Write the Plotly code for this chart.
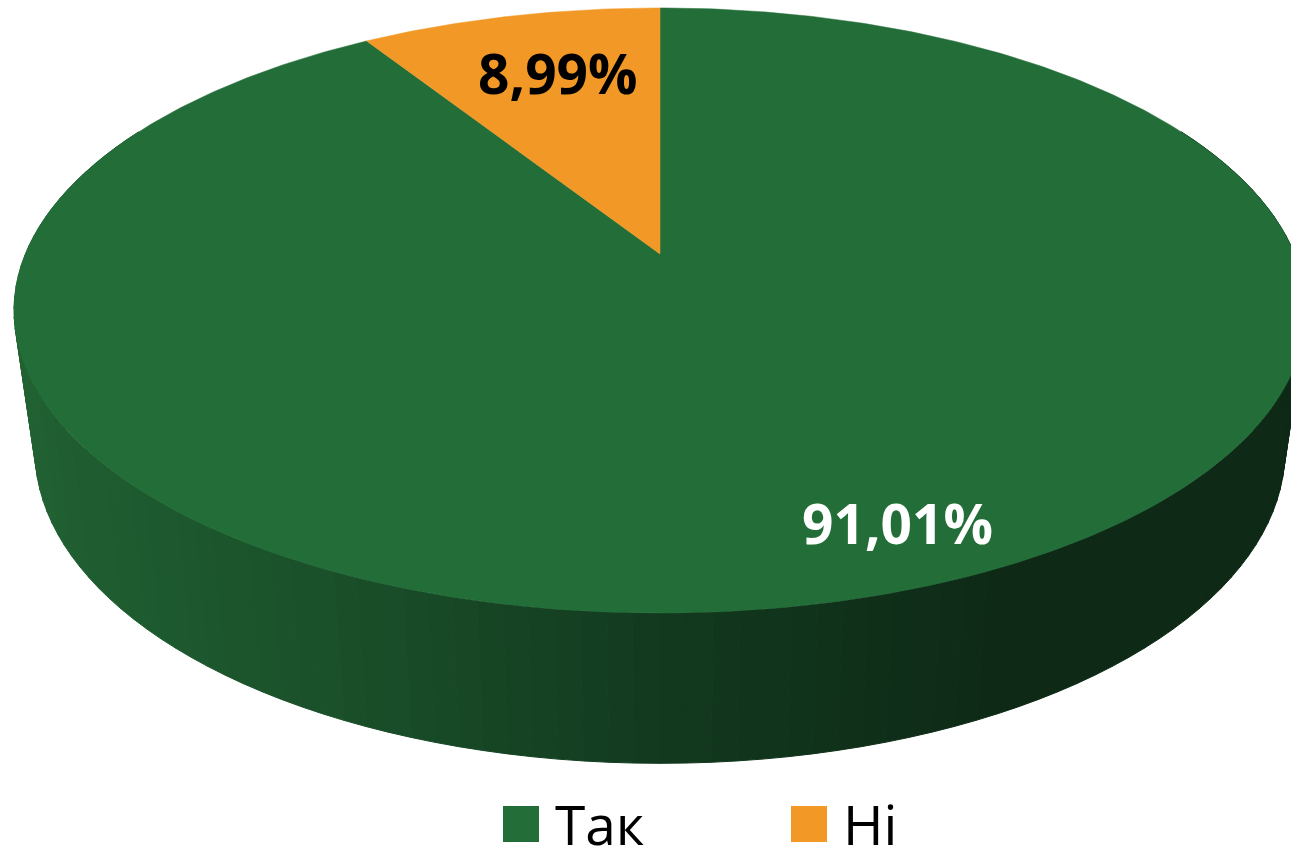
import numpy as np
import plotly.graph_objects as go

categories = ["Так", "Ні"]
values = [91.01, 8.99]
colors = ["#236E38", "#F29826"]
FONT = "Open Sans"

W, H = 1291, 847
CX = 660.0
K = 0.1867
TOP = dict(A=634.6, B=292.0, y0=254.0)
BOT = dict(A=614.0, B=302.0, y0=392.0)


def project(t, rim):
    """t = clockwise angle from 12 o'clock in radians -> page position."""
    u, v = np.sin(t), np.cos(t)
    s = 1 + K * v
    return CX + rim["A"] * u / s, rim["y0"] - rim["B"] * v / s


def side_color(x):
    xs = [15, 150, 400, 660, 1000, 1291]
    r = [0x22, 0x1E, 0x19, 0x13, 0x0E, 0x0E]
    g = [0x62, 0x5A, 0x4C, 0x3A, 0x2A, 0x2A]
    b = [0x33, 0x2F, 0x28, 0x1F, 0x17, 0x17]
    return "rgb(%d,%d,%d)" % (np.interp(x, xs, r), np.interp(x, xs, g), np.interp(x, xs, b))


fig = go.Figure()

# Side wall, built from narrow strips so the shading runs across it
edges = np.linspace(np.pi * 0.35, np.pi * 1.65, 121)
for a, b in zip(edges[:-1], edges[1:]):
    tt = np.array([a, b])
    x1, y1 = project(tt, TOP)
    x2, y2 = project(tt[::-1], BOT)
    col = side_color((x1.mean() + x2.mean()) / 2)
    fig.add_trace(go.Scatter(
        x=np.r_[x1, x2, x1[0]], y=np.r_[y1, y2, y1[0]],
        mode="lines", fill="toself", fillcolor=col,
        line=dict(color=col, width=1), hoverinfo="skip", showlegend=False))

# Top face: slices sized from the values, clockwise from 12 o'clock
start = 0.0
total = sum(values)
for name, val, col in zip(categories, values, colors):
    sweep = 2 * np.pi * val / total
    tt = np.linspace(start, start + sweep, max(int(val * 6), 40))
    x, y = project(tt, TOP)
    fig.add_trace(go.Scatter(
        x=np.r_[CX, x, CX], y=np.r_[TOP["y0"], y, TOP["y0"]],
        mode="lines", fill="toself", fillcolor=col, line=dict(color=col, width=0.5),
        name=name, hoverinfo="name", showlegend=False))
    start += sweep

# Slice labels
label_pos = [(897, 522), (558, 72)]
label_col = ["#FFFFFF", "#000000"]
for val, (lx, ly), c in zip(values, label_pos, label_col):
    fig.add_annotation(x=lx, y=ly, xref="x", yref="y", showarrow=False,
                       text=f"<b>{val:.2f}%</b>".replace(".", ","),
                       font=dict(family=FONT, size=55, color=c))

# Legend
legend_x = [521, 809]
legend_y = 824
for name, col, lx in zip(categories, colors, legend_x):
    fig.add_trace(go.Scatter(x=[lx], y=[legend_y], mode="markers",
                             marker=dict(symbol="square", size=36, color=col, line=dict(width=0)),
                             hoverinfo="skip", showlegend=False))
    fig.add_annotation(x=lx + 32, y=legend_y - 1, xref="x", yref="y", showarrow=False,
                       xanchor="left", text=name,
                       font=dict(family=FONT, size=55, color="#000000"))

fig.update_layout(
    width=W, height=H, margin=dict(l=0, r=0, t=0, b=0),
    paper_bgcolor="#FFFFFF", plot_bgcolor="#FFFFFF", showlegend=False,
    xaxis=dict(range=[0, W], visible=False, fixedrange=True),
    yaxis=dict(range=[H, 0], visible=False, fixedrange=True),
)
fig.write_html("out.html", config={"displayModeBar": False},
               post_script="document.body.style.margin='0';")
